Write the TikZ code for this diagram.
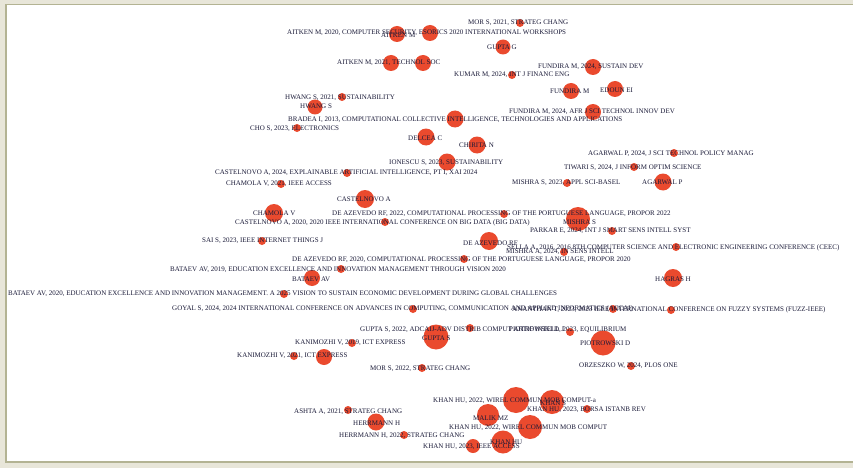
\documentclass[tikz,border=0pt]{standalone}
\usepackage{fontspec}
\setmainfont{Liberation Serif}
\usetikzlibrary{backgrounds}
\definecolor{nodered}{HTML}{EA4A2E}
\definecolor{edgegray}{HTML}{D8D8D8}
\definecolor{txt}{HTML}{1A1A38}
\definecolor{panel}{HTML}{E8E6D9}
\definecolor{rim}{HTML}{B3B393}
\definecolor{labbg}{HTML}{F3F3F3}
\begin{document}
\begin{tikzpicture}[x=1pt,y=-1pt,
  vtx/.style={circle,fill=nodered,inner sep=0pt,minimum size=#1},
  vtx/.default=8pt,
  lab/.style={anchor=west,inner sep=0pt,font=\fontsize{7}{7}\selectfont,text=txt},
  link/.style={draw=edgegray,line width=5pt}]
\useasboundingbox (0,0) rectangle (853,468);
\fill[panel] (0,0) rectangle (853,468);
\filldraw[fill=white,draw=rim,line width=1.2pt] (6,4.5) rectangle (870,462);
% ---------- vertices ----------
% AITKEN
\node[vtx=16pt] (a1) at (397,34) {};
\node[vtx=16pt] (a2) at (430,33) {};
\node[vtx=16pt] (a3) at (391,63) {};
\node[vtx=16pt] (a4) at (423,63) {};
% GUPTA G
\node[vtx] (g1) at (520,23) {};
\node[vtx=15pt] (g2) at (503,47) {};
\node[vtx] (g3) at (512,75) {};
% FUNDIRA
\node[vtx=16pt] (f1) at (593,67) {};
\node[vtx=16pt] (f2) at (615,89) {};
\node[vtx=16pt] (f3) at (571,91) {};
\node[vtx=16pt] (f4) at (593,112) {};
% HWANG / CHO
\node[vtx] (h1) at (342,97) {};
\node[vtx=15pt] (h2) at (315,107) {};
\node[vtx] (c1) at (297,128) {};
% BRADEA
\node[vtx=17pt] (b1) at (455,119) {};
\node[vtx=17pt] (b2) at (426,137) {};
\node[vtx=17pt] (b3) at (477,145) {};
\node[vtx=17pt] (b4) at (447,162) {};
% CASTELNOVO
\node[vtx] (k1) at (347,173) {};
\node[vtx=18pt] (k2) at (365,199) {};
\node[vtx] (k3) at (385,222) {};
% CHAMOLA
\node[vtx] (m1) at (281,184) {};
\node[vtx=18pt] (m2) at (274,213) {};
\node[vtx] (m3) at (262,241) {};
% DE AZEVEDO
\node[vtx] (d1) at (504,214) {};
\node[vtx=18pt] (d2) at (489,241) {};
\node[vtx] (d3) at (464,259) {};
% BATAEV
\node[vtx] (v1) at (341,269) {};
\node[vtx=16pt] (v2) at (312,278) {};
\node[vtx] (v3) at (284,294) {};
% GUPTA S
\node[vtx] (s1) at (413,309) {};
\node[vtx=25pt] (s2) at (436,337) {};
\node[vtx] (s3) at (470,328) {};
\node[vtx] (s4) at (422,368) {};
% KANIMOZHI
\node[vtx] (n1) at (352,343) {};
\node[vtx=16pt] (n2) at (324,357) {};
\node[vtx] (n3) at (294,356) {};
% PIOTROWSKI
\node[vtx] (p1) at (613,309) {};
\node[vtx=25pt] (p2) at (603,343) {};
\node[vtx] (p3) at (631,366) {};
\node[vtx] (p4) at (570,332) {};
% HAGRAS
\node[vtx] (r1) at (676,247) {};
\node[vtx=18pt] (r2) at (673,278) {};
\node[vtx] (r3) at (671,310) {};
% MISHRA
\node[vtx] (i1) at (567,183) {};
\node[vtx=24pt] (i2) at (578,219) {};
\node[vtx] (i3) at (612,231) {};
\node[vtx] (i4) at (564,252) {};
% AGARWAL
\node[vtx] (q1) at (674,153) {};
\node[vtx] (q2) at (634,167) {};
\node[vtx=17pt] (q3) at (663,182) {};
% KHAN
\node[vtx=26pt] (u1) at (516,400) {};
\node[vtx=24pt] (u2) at (552,402) {};
\node[vtx=22pt] (u3) at (488,415) {};
\node[vtx=24pt] (u4) at (530,427) {};
\node[vtx=23pt] (u5) at (503,442) {};
\node[vtx=14pt] (u6) at (473,446) {};
\node[vtx] (u7) at (587,409) {};
% HERRMANN
\node[vtx] (e1) at (348,410) {};
\node[vtx=17pt] (e2) at (376,422) {};
\node[vtx] (e3) at (404,435) {};
% ---------- labels ----------
\node[lab] (la1) at (287,33) {AITKEN M, 2020, COMPUTER SECURITY, ESORICS 2020 INTERNATIONAL WORKSHOPS};
\node[lab] (la2) at (381,35) {AITKEN M};
\node[lab] (la3) at (337,63) {AITKEN M, 2021, TECHNOL SOC};
\node[lab] (lg1) at (468,23) {MOR S, 2021, STRATEG CHANG};
\node[lab] (lg2) at (487,47) {GUPTA G};
\node[lab] (lg3) at (454,75) {KUMAR M, 2024, INT J FINANC ENG};
\node[lab] (lf1) at (538,67) {FUNDIRA M, 2024, SUSTAIN DEV};
\node[lab] (lf2) at (600,90) {EDOUN EI};
\node[lab] (lf3) at (550,91) {FUNDIRA M};
\node[lab] (lf4) at (509,112) {FUNDIRA M, 2024, AFR J SCI TECHNOL INNOV DEV};
\node[lab] (lh1) at (285,98) {HWANG S, 2021, SUSTAINABILITY};
\node[lab] (lh2) at (300,106) {HWANG S};
\node[lab] (lc1) at (250,129) {CHO S, 2023, ELECTRONICS};
\node[lab] (lb1) at (288,120) {BRADEA I, 2013, COMPUTATIONAL COLLECTIVE INTELLIGENCE, TECHNOLOGIES AND APPLICATIONS};
\node[lab] (lb2) at (408,138) {DELCEA C};
\node[lab] (lb3) at (459,145) {CHIRITA N};
\node[lab] (lb4) at (389,163) {IONESCU S, 2023, SUSTAINABILITY};
\node[lab] (lk1) at (215,173) {CASTELNOVO A, 2024, EXPLAINABLE ARTIFICIAL INTELLIGENCE, PT I, XAI 2024};
\node[lab] (lk2) at (337,199) {CASTELNOVO A};
\node[lab] (lk3) at (235,223) {CASTELNOVO A, 2020, 2020 IEEE INTERNATIONAL CONFERENCE ON BIG DATA (BIG DATA)};
\node[lab] (lm1) at (226,184) {CHAMOLA V, 2021, IEEE ACCESS};
\node[lab] (lm2) at (253,213) {CHAMOLA V};
\node[lab] (lm3) at (202,241) {SAI S, 2023, IEEE INTERNET THINGS J};
\node[lab] (ld1) at (332,214) {DE AZEVEDO RF, 2022, COMPUTATIONAL PROCESSING OF THE PORTUGUESE LANGUAGE, PROPOR 2022};
\node[lab] (ld2) at (463,243) {DE AZEVEDO RF};
\node[lab] (ld3) at (292,260) {DE AZEVEDO RF, 2020, COMPUTATIONAL PROCESSING OF THE PORTUGUESE LANGUAGE, PROPOR 2020};
\node[lab] (lv1) at (170,270) {BATAEV AV, 2019, EDUCATION EXCELLENCE AND INNOVATION MANAGEMENT THROUGH VISION 2020};
\node[lab] (lv2) at (292,279) {BATAEV AV};
\node[lab] (lv3) at (8,294) {BATAEV AV, 2020, EDUCATION EXCELLENCE AND INNOVATION MANAGEMENT. A 2025 VISION TO SUSTAIN ECONOMIC DEVELOPMENT DURING GLOBAL CHALLENGES};
\node[lab] (ls1) at (172,309) {GOYAL S, 2024, 2024 INTERNATIONAL CONFERENCE ON ADVANCES IN COMPUTING, COMMUNICATION AND APPLIED INFORMATICS (ACCAI)};
\node[lab] (ls3) at (360,330) {GUPTA S, 2022, ADCAIJ-ADV DISTRIB COMPUT ARTIF INTELL J};
\node[lab] (ls2) at (422,338) {GUPTA S};
\node[lab] (ls4) at (370,369) {MOR S, 2022, STRATEG CHANG};
\node[lab] (ln1) at (295,343) {KANIMOZHI V, 2019, ICT EXPRESS};
\node[lab] (ln3) at (237,356) {KANIMOZHI V, 2021, ICT EXPRESS};
\node[lab] (lp4) at (509,330) {PIOTROWSKI D, 2023, EQUILIBRIUM};
\node[lab] (lp2) at (580,343) {PIOTROWSKI D};
\node[lab] (lp3) at (579,366) {ORZESZKO W, 2024, PLOS ONE};
\node[lab] (lr3) at (512,310) {ANANTHAN T, 2023, 2023 IEEE INTERNATIONAL CONFERENCE ON FUZZY SYSTEMS (FUZZ-IEEE)};
\node[lab] (lr1) at (507,248) {SELLA A, 2016, 2016 8TH COMPUTER SCIENCE AND ELECTRONIC ENGINEERING CONFERENCE (CEEC)};
\node[lab] (lr2) at (655,279) {HAGRAS H};
\node[lab] (li1) at (512,183) {MISHRA S, 2023, APPL SCI-BASEL};
\node[lab] (li2) at (563,222) {MISHRA S};
\node[lab] (li3) at (530,231) {PARKAR E, 2024, INT J SMART SENS INTELL SYST};
\node[lab] (li4) at (506,252) {MISHRA A, 2024, IN SENS INTELL};
\node[lab] (lq1) at (588,154) {AGARWAL P, 2024, J SCI TECHNOL POLICY MANAG};
\node[lab] (lq2) at (564,168) {TIWARI S, 2024, J INFORM OPTIM SCIENCE};
\node[lab] (lq3) at (642,182) {AGARWAL P};
\node[lab] (lu1) at (433,401) {KHAN HU, 2022, WIREL COMMUN MOB COMPUT-a};
\node[lab] (lu2) at (540,403) {KHAN S};
\node[lab] (lu7) at (527,410) {KHAN HU, 2023, BORSA ISTANB REV};
\node[lab] (lu3) at (473,418) {MALIK MZ};
\node[lab] (lu4) at (449,428) {KHAN HU, 2022, WIREL COMMUN MOB COMPUT};
\node[lab] (lu5) at (490,442) {KHAN HU};
\node[lab] (lu6) at (423,447) {KHAN HU, 2023, IEEE ACCESS};
\node[lab] (le1) at (294,412) {ASHTA A, 2021, STRATEG CHANG};
\node[lab] (le2) at (353,423) {HERRMANN H};
\node[lab] (le3) at (339,436) {HERRMANN H, 2022, STRATEG CHANG};
% ---------- edges and label backgrounds ----------
\begin{scope}[on background layer]
\foreach \l in {la1,la3,lg1,lg3,lf1,lf4,lh1,lc1,lb1,lb4,lk1,lk3,lm1,lm3,ld1,ld3,lv1,lv3,ls1,ls3,ls4,ln1,ln3,lp4,lp3,lr3,lr1,li1,li3,li4,lq1,lq2,lu1,lu7,lu4,lu6,le1,le3}
  \fill[labbg] ([shift={(-2,-1.5)}]\l.north west) rectangle ([shift={(2,1.5)}]\l.south east);
\draw[link] (a1) -- (a3);
\draw[link] (a2) -- (a4);
\draw[link] (g2) -- (g1);
\draw[link] (g2) -- (g3);
\draw[link] (f3) -- (f1) -- (f2) -- (f4) -- (f3);
\draw[link] (h2) -- (h1);
\draw[link] (h2) -- (c1);
\draw[link] (b2) -- (b1) -- (b3) -- (b4) -- (b2);
\draw[link] (k1) -- (k2) -- (k3);
\draw[link] (m1) -- (m2) -- (m3);
\draw[link] (d1) -- (d2) -- (d3);
\draw[link] (v1) -- (v2) -- (v3);
\draw[link] (s1) -- (s2);
\draw[link] (s2) -- (s3);
\draw[link] (s2) -- (s4);
\draw[link] (n1) -- (n2) -- (n3);
\draw[link] (p1) -- (p2) -- (p3);
\draw[link] (p2) -- (p4);
\draw[link] (r1) -- (r2) -- (r3);
\draw[link] (i1) -- (i2) -- (i3);
\draw[link] (i2) -- (i4);
\draw[link] (q1) -- (q3);
\draw[link] (q2) -- (q3);
\draw[link] (u3) -- (u1) -- (u2) -- (u7);
\draw[link] (u2) -- (u4) -- (u5) -- (u6);
\draw[link] (u3) -- (u5);
\draw[link] (u3) -- (u4);
\draw[link] (e1) -- (e2) -- (e3);
\end{scope}
\end{tikzpicture}
\end{document}
